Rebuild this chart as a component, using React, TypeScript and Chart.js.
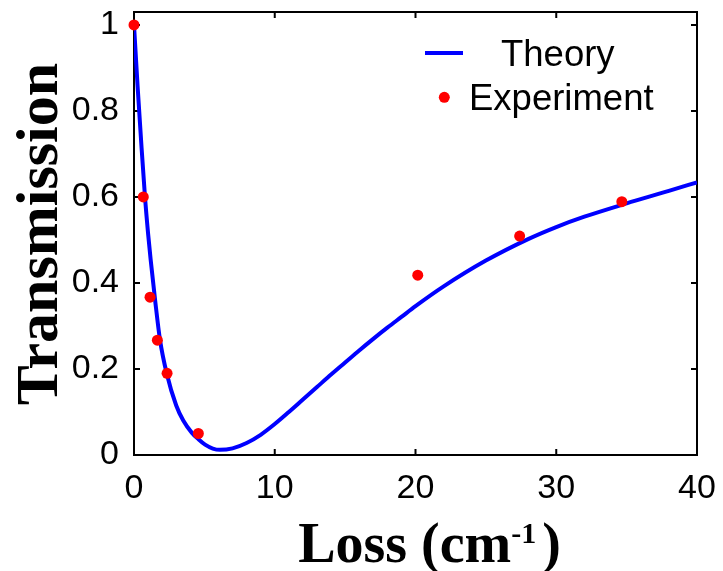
import React, { useEffect, useRef } from "react";
import { Chart, registerables } from "chart.js";

Chart.register(...registerables);

// Theoretical transmission curve vs. loss
const lossTheory = [0, 0.25, 0.5, 0.78, 1.0, 1.18, 1.5, 1.85, 2.32, 3.0, 3.5, 4.1, 4.6, 5.05, 5.6, 6.1, 7, 8, 9, 10, 11, 12, 13, 14, 15, 16, 17, 18, 19, 20, 22, 25, 28, 30, 32, 35, 38, 40];
const transTheory = [1.0, 0.86, 0.733, 0.6, 0.515, 0.455, 0.36, 0.267, 0.19, 0.115, 0.08, 0.052, 0.036, 0.024, 0.015, 0.012, 0.0155, 0.028, 0.047, 0.072, 0.1, 0.129, 0.158, 0.187, 0.215, 0.243, 0.27, 0.296, 0.321, 0.346, 0.392, 0.452, 0.502, 0.53, 0.554, 0.585, 0.614, 0.634];

// Measured transmission
const lossExp = [0, 0.66, 1.14, 1.66, 2.35, 4.57, 20.16, 27.4, 34.66];
const transExp = [1.0, 0.6, 0.367, 0.267, 0.19, 0.05, 0.418, 0.509, 0.589];

// Axis ticks
const xTicks = [0, 10, 20, 30, 40];
const yTicks = [0, 0.2, 0.4, 0.6, 0.8, 1];

const SANS = '"Liberation Sans", Arial, Helvetica, sans-serif';
const SERIF = '"Liberation Serif", "Times New Roman", serif';
const BLUE = "#0000ff";
const RED = "#ff0000";

const framePlugin = {
  id: "frameAndLabels",
  beforeDatasetsDraw(chart: any) {
    const { ctx, chartArea: a, scales } = chart;
    ctx.save();
    ctx.strokeStyle = "#000";
    ctx.lineWidth = 2;
    ctx.strokeRect(a.left, a.top, a.right - a.left, a.bottom - a.top);
    const tl = 6;
    ctx.beginPath();
    for (const v of xTicks) {
      const px = scales.x.getPixelForValue(v);
      ctx.moveTo(px, a.bottom);
      ctx.lineTo(px, a.bottom - tl);
      ctx.moveTo(px, a.top);
      ctx.lineTo(px, a.top + tl);
    }
    for (const v of yTicks) {
      const py = scales.y.getPixelForValue(v);
      ctx.moveTo(a.left, py);
      ctx.lineTo(a.left + tl, py);
      ctx.moveTo(a.right, py);
      ctx.lineTo(a.right - tl, py);
    }
    ctx.stroke();
    ctx.restore();
  },
  afterDraw(chart: any) {
    const { ctx, chartArea: a } = chart;
    ctx.save();
    ctx.fillStyle = "#000";

    // y-axis title
    ctx.save();
    ctx.translate(57, (a.top + a.bottom) / 2 + 0.5);
    ctx.rotate(-Math.PI / 2);
    ctx.font = `bold 60px ${SERIF}`;
    ctx.textAlign = "center";
    ctx.textBaseline = "alphabetic";
    ctx.fillText("Transmission", 0, 0);
    ctx.restore();

    // x-axis title with superscript
    const mainFont = `bold 56px ${SERIF}`;
    const supFont = `bold 30px ${SERIF}`;
    ctx.textBaseline = "alphabetic";
    ctx.textAlign = "left";
    ctx.font = mainFont;
    const w1 = ctx.measureText("Loss (cm").width;
    const w3 = ctx.measureText(")").width;
    ctx.font = supFont;
    const w2 = ctx.measureText("-1").width;
    const gap = 6;
    const total = w1 + w2 + gap + w3;
    const cx = (a.left + a.right) / 2 + 14;
    const x0 = cx - total / 2;
    const base = 561.5;
    ctx.font = mainFont;
    ctx.fillText("Loss (cm", x0, base);
    ctx.font = supFont;
    ctx.fillText("-1", x0 + w1, base - 19);
    ctx.font = mainFont;
    ctx.fillText(")", x0 + w1 + w2 + gap, base);

    // legend
    ctx.font = `36.5px ${SANS}`;
    ctx.strokeStyle = BLUE;
    ctx.lineWidth = 4;
    ctx.beginPath();
    ctx.moveTo(425, 53);
    ctx.lineTo(463, 53);
    ctx.stroke();
    ctx.fillText("Theory", 501, 66);
    ctx.fillStyle = RED;
    ctx.beginPath();
    ctx.arc(444.3, 97.3, 5.5, 0, Math.PI * 2);
    ctx.fill();
    ctx.fillStyle = "#000";
    ctx.fillText("Experiment", 469, 110);
    ctx.restore();
  },
};

export default function App() {
  const ref = useRef<HTMLCanvasElement | null>(null);

  useEffect(() => {
    if (!ref.current) return;
    const chart = new Chart(ref.current, {
      type: "line",
      data: {
        datasets: [
          {
            label: "Experiment",
            data: lossExp.map((x, i) => ({ x, y: transExp[i] })),
            showLine: false,
            pointRadius: 5.5,
            pointBackgroundColor: RED,
            pointBorderWidth: 0,
            pointBorderColor: RED,
            clip: false as any,
          },
          {
            label: "Theory",
            data: lossTheory.map((x, i) => ({ x, y: transTheory[i] })),
            borderColor: BLUE,
            borderWidth: 4,
            pointRadius: 0,
            cubicInterpolationMode: "monotone",
            fill: false,
          },
        ],
      },
      options: {
        animation: false,
        responsive: false,
        devicePixelRatio: 1,
        layout: { padding: { left: 0, top: 12, right: 26, bottom: 0 } },
        plugins: { legend: { display: false }, tooltip: { enabled: false } },
        scales: {
          x: {
            type: "linear",
            min: 0,
            max: 40,
            grid: { display: false },
            border: { display: false },
            afterBuildTicks: (s: any) => {
              s.ticks = xTicks.map((v) => ({ value: v }));
            },
            afterFit: (s: any) => {
              s.height = 116;
              s.paddingLeft = 0;
              s.paddingRight = 0;
            },
            ticks: {
              padding: 5,
              maxRotation: 0,
              color: "#000",
              font: { family: SANS, size: 34 },
              callback: (v: any) => String(v),
            },
          },
          y: {
            type: "linear",
            min: 0,
            max: 1.03,
            grid: { display: false },
            border: { display: false },
            afterBuildTicks: (s: any) => {
              s.ticks = yTicks.map((v) => ({ value: v }));
            },
            afterFit: (s: any) => {
              s.width = 134;
              s.paddingTop = 0;
              s.paddingBottom = 0;
            },
            ticks: {
              padding: 7,
              color: "#000",
              font: { family: SANS, size: 34 },
              callback: (v: any) => String(v),
            },
          },
        },
      },
      plugins: [framePlugin],
    });
    return () => chart.destroy();
  }, []);

  return (
    <div style={{ position: "fixed", left: 0, top: 0, width: 723, height: 571, background: "#fff" }}>
      <canvas ref={ref} width={723} height={571} style={{ display: "block" }} />
    </div>
  );
}
